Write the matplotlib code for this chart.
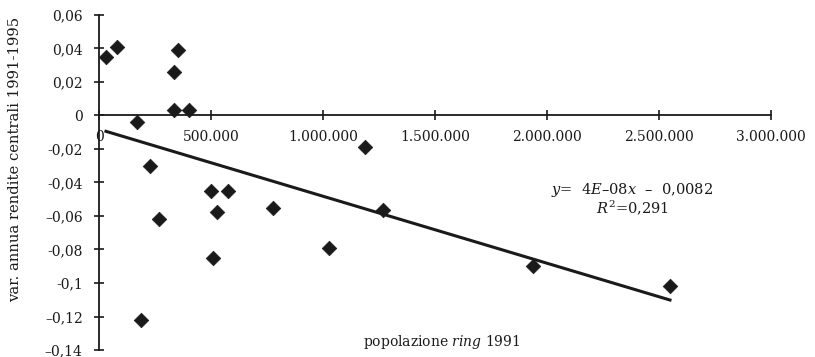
import numpy as np
import matplotlib
matplotlib.use("Agg")
import matplotlib.pyplot as plt

# ring population 1991 vs yearly change of central yields 1991-1995
popolazione = [31000, 80000, 351000, 336000, 336000, 402000, 170000, 228000,
               499000, 577000, 525000, 269000, 510000, 187000, 1188000,
               778000, 1269000, 1027000, 1939000, 2549000]
var_rendite = [0.0348, 0.0409, 0.0392, 0.0262, 0.0034, 0.0034, -0.0039, -0.0300,
               -0.0449, -0.0449, -0.0574, -0.0616, -0.0850, -0.1223, -0.0188,
               -0.0552, -0.0566, -0.0792, -0.0900, -0.1019]

# linear trend as printed on the chart
slope = -4e-08
intercept = -0.0082
r2_text = "0,291"

x_ticks = [0, 500000, 1000000, 1500000, 2000000, 2500000, 3000000]
x_ticklabels = ["0", "500.000", "1.000.000", "1.500.000", "2.000.000",
                "2.500.000", "3.000.000"]
y_ticks = [0.06, 0.04, 0.02, 0, -0.02, -0.04, -0.06, -0.08, -0.1, -0.12, -0.14]
y_ticklabels = ["0,06", "0,04", "0,02", "0", "-0,02", "-0,04", "\u20130,06",
                "-0,08", "-0,1", "\u20130,12", "\u20130,14"]

plt.rcParams["font.family"] = "DejaVu Serif"
plt.rcParams["mathtext.fontset"] = "dejavuserif"

ink = "#1a1a1a"
fig = plt.figure(figsize=(8.15, 3.57), dpi=100)
ax = fig.add_axes([99 / 815, 7 / 357, 672 / 815, 335 / 357])

ax.scatter(popolazione, var_rendite, marker="D", s=55, color=ink,
           edgecolor=ink, linewidth=0.5, zorder=3)

xs = np.array([min(popolazione), max(popolazione)])
ax.plot(xs, slope * xs + intercept, color=ink, linewidth=2.2, zorder=2)

ax.set_xlim(0, 3000000)
ax.set_ylim(-0.14, 0.06)

for side in ("top", "right"):
    ax.spines[side].set_visible(False)
ax.spines["bottom"].set_position(("data", 0))
ax.spines["left"].set_position(("data", 0))
for side in ("bottom", "left"):
    ax.spines[side].set_color(ink)
    ax.spines[side].set_linewidth(1.3)

ax.set_xticks(x_ticks)
ax.set_xticklabels(x_ticklabels)
ax.set_yticks(y_ticks)
ax.set_yticklabels(y_ticklabels)
ax.tick_params(axis="x", direction="inout", length=7, width=1.2, pad=7,
               labelsize=10, colors=ink)
ax.tick_params(axis="y", direction="inout", length=7.5, width=1.2, pad=8,
               labelsize=10, colors=ink)

fig.text(15 / 815, 1 - 159 / 357, "var. annua rendite centrali 1991-1995",
         rotation=90, ha="center", va="center", fontsize=10.6, color=ink)
ax.text(1530000, -0.1355, "popolazione $\\mathit{ring}$ 1991",
        ha="center", va="center", fontsize=10, color=ink)

ax.text(2380000, -0.0445, "$y$=  4$E$\u201308$x$  \u2013  0,0082",
        ha="center", va="center", fontsize=10.5, color=ink)
ax.text(2380000, -0.0550, "$R^2$=" + r2_text,
        ha="center", va="center", fontsize=10.5, color=ink)

fig.savefig("out.png", dpi=100)
